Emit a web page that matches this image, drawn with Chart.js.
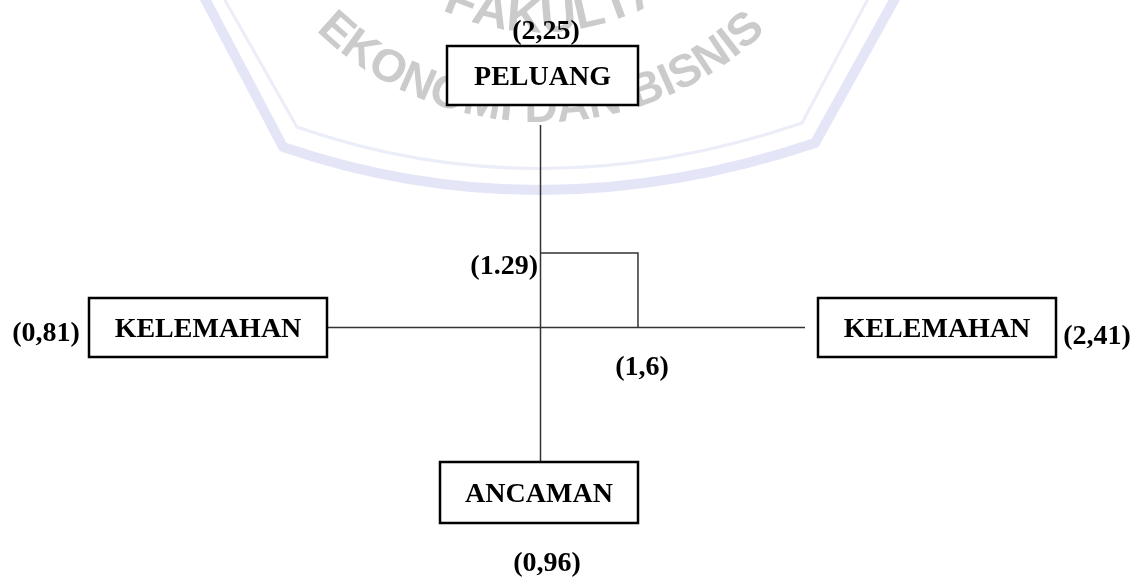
<!DOCTYPE html>
<html lang="id">
<head>
<meta charset="UTF-8" />
<script src="https://cdn.jsdelivr.net/npm/chart.js@4"></script>
<style>
  html, body { margin: 0; padding: 0; background: #fff; }
</style>
</head>
<body>
<canvas id="myChart" width="1136" height="579"></canvas>
<script>
// nilai dari diagram
const faktor = ['PELUANG', 'KELEMAHAN', 'KELEMAHAN', 'ANCAMAN'];
const skor = ['(2,25)', '(0,81)', '(2,41)', '(0,96)'];
const posisiX = [1.6];
const posisiY = [1.29];
const labelPosisi = ['(1,6)', '(1.29)'];

const FONT = 'bold 28px "Liberation Serif", "Times New Roman", serif';

// kotak: atas, kiri, kanan, bawah (piksel)
const kotak = [
  { x: 447, y: 46, w: 191, h: 59 },
  { x: 89, y: 298, w: 238, h: 59 },
  { x: 818, y: 298, w: 238, h: 59 },
  { x: 440, y: 462, w: 198, h: 61 }
];
const posSkor = [[546, 30], [46, 332], [1097, 335], [547, 562]];

function teksArc(ctx, txt, cx, cy, r, tengah) {
  let total = 0;
  const lebar = [];
  for (const c of txt) { const w = ctx.measureText(c).width; lebar.push(w); total += w; }
  let a = tengah - total / r / 2;
  let i = 0;
  for (const c of txt) {
    const da = lebar[i] / r;
    const t = a + da / 2;
    ctx.save();
    ctx.translate(cx + r * Math.sin(t), cy + r * Math.cos(t));
    ctx.rotate(-t);
    ctx.fillText(c, 0, 0);
    ctx.restore();
    a += da;
    i++;
  }
}

const latar = {
  id: 'latar',
  beforeDatasetsDraw(chart) {
    const ctx = chart.ctx;
    ctx.save();
    // watermark
    ctx.lineJoin = 'round';
    ctx.strokeStyle = '#e4e6f7';
    ctx.lineWidth = 10;
    ctx.beginPath();
    ctx.moveTo(203, -5);
    ctx.lineTo(283, 147);
    ctx.quadraticCurveTo(541, 235, 815, 143);
    ctx.lineTo(897, -5);
    ctx.stroke();
    ctx.strokeStyle = '#ebedf8';
    ctx.lineWidth = 3;
    ctx.beginPath();
    ctx.moveTo(222, -5);
    ctx.lineTo(297, 127);
    ctx.quadraticCurveTo(541, 212, 802, 123);
    ctx.lineTo(870, -5);
    ctx.stroke();
    ctx.fillStyle = '#cbcbcb';
    ctx.textAlign = 'center';
    ctx.textBaseline = 'alphabetic';
    ctx.font = 'bold 46px "Liberation Sans", Arial, sans-serif';
    teksArc(ctx, 'EKONOMI DAN BISNIS', 541, -200, 322, 0.0);
    ctx.font = 'bold 50px "Liberation Sans", Arial, sans-serif';
    teksArc(ctx, 'FAKULTAS', 541, -200, 232, 0.14);

    // garis sumbu
    const xs = chart.scales.x, ys = chart.scales.y;
    const cx = Math.round(xs.getPixelForValue(0)) + 0.5;
    const cy = Math.round(ys.getPixelForValue(0)) + 0.5;
    ctx.strokeStyle = '#333';
    ctx.lineWidth = 1.5;
    ctx.beginPath();
    ctx.moveTo(kotak[1].x + kotak[1].w, cy);
    ctx.lineTo(805, cy);
    ctx.moveTo(cx, 125);
    ctx.lineTo(cx, kotak[3].y);
    ctx.stroke();
    ctx.restore();
  },
  afterDatasetsDraw(chart) {
    const ctx = chart.ctx;
    ctx.save();
    ctx.font = FONT;
    ctx.textBaseline = 'alphabetic';
    ctx.textAlign = 'center';
    kotak.forEach((k, i) => {
      ctx.fillStyle = '#fff';
      ctx.fillRect(k.x, k.y, k.w, k.h);
      ctx.strokeStyle = '#000';
      ctx.lineWidth = 2.5;
      ctx.strokeRect(k.x, k.y, k.w, k.h);
      ctx.fillStyle = '#000';
      ctx.fillText(faktor[i], k.x + k.w / 2, k.y + k.h / 2 + 9);
      ctx.fillText(skor[i], posSkor[i][0], posSkor[i][1] + 9);
    });
    const xs = chart.scales.x, ys = chart.scales.y;
    const px = xs.getPixelForValue(posisiX[0]);
    const py = ys.getPixelForValue(posisiY[0]);
    const cx = xs.getPixelForValue(0);
    const cy = ys.getPixelForValue(0);
    ctx.fillText(labelPosisi[0], px + 4, cy + 48);
    ctx.textAlign = 'right';
    ctx.fillText(labelPosisi[1], cx - 2, py + 21);
    ctx.restore();
  }
};

const ctx = document.getElementById('myChart').getContext('2d');
new Chart(ctx, {
  type: 'scatter',
  data: {
    datasets: [{
      data: [
        { x: 0, y: posisiY[0] },
        { x: posisiX[0], y: posisiY[0] },
        { x: posisiX[0], y: 0 }
      ],
      showLine: true,
      borderColor: '#333',
      borderWidth: 1.5,
      pointRadius: 0,
      fill: false
    }]
  },
  options: {
    responsive: false,
    animation: false,
    layout: { padding: 0 },
    plugins: { legend: { display: false }, tooltip: { enabled: false } },
    scales: {
      x: { type: 'linear', min: -8.816, max: 9.731, display: false },
      y: { type: 'linear', min: -4.393, max: 5.701, display: false }
    }
  },
  plugins: [latar]
});
</script>
</body>
</html>
